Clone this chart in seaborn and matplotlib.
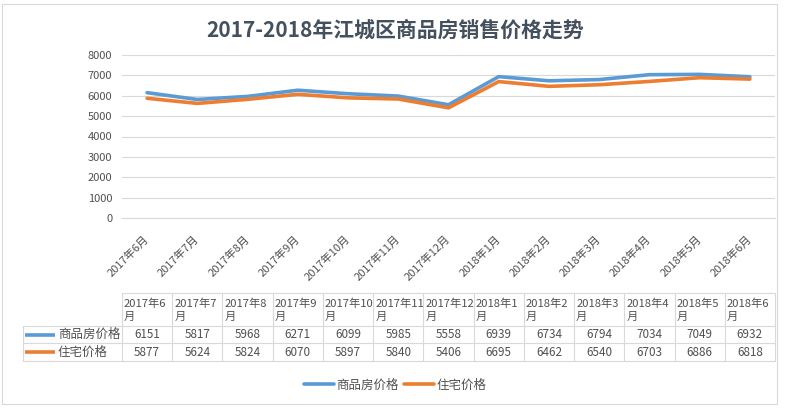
import matplotlib
matplotlib.use("Agg")
import matplotlib.pyplot as plt
from matplotlib.lines import Line2D
from matplotlib.patches import Rectangle
import seaborn as sns
import pandas as pd

# data
months = ["2017年6月", "2017年7月", "2017年8月", "2017年9月", "2017年10月", "2017年11月",
          "2017年12月", "2018年1月", "2018年2月", "2018年3月", "2018年4月", "2018年5月", "2018年6月"]
commercial = [6151, 5817, 5968, 6271, 6099, 5985, 5558, 6939, 6734, 6794, 7034, 7049, 6932]
residential = [5877, 5624, 5824, 6070, 5897, 5840, 5406, 6695, 6462, 6540, 6703, 6886, 6818]
series_names = ["商品房价格", "住宅价格"]
colors = ["#5B9BD5", "#ED7D31"]
title = "2017-2018年江城区商品房销售价格走势"
y_ticks = list(range(0, 8001, 1000))

sns.set_style("white")
plt.rcParams["font.family"] = ["Noto Sans CJK SC", "DejaVu Sans"]

W, H = 790, 408
fig = plt.figure(figsize=(W / 100, H / 100), dpi=100)

def fx(px):
    return px / W

def fy(py):
    return 1 - py / H

grid_c = "#D9D9D9"
text_c = "#505050"

# chart border
fig.patches.append(Rectangle((fx(2), fy(404)), fx(775), 400 / H, transform=fig.transFigure,
                             fill=False, edgecolor=grid_c, lw=0.8))

# main plot area
L, R, T, B = 122, 775, 55, 218
ax = fig.add_axes([fx(L), fy(B), fx(R - L), (B - T) / H])

df = pd.DataFrame({
    "idx": list(range(len(months))) * 2,
    "price": commercial + residential,
    "series": [series_names[0]] * len(months) + [series_names[1]] * len(months),
})
sns.lineplot(data=df, x="idx", y="price", hue="series", palette=colors,
             hue_order=series_names, linewidth=2.6, legend=False, ax=ax, sort=False)

ax.set_xlim(-0.5, len(months) - 0.5)
ax.set_ylim(0, 8000)
ax.set_yticks(y_ticks)
ax.set_yticklabels([str(v) for v in y_ticks], fontsize=8, color=text_c)
ax.yaxis.grid(True, color=grid_c, lw=0.8)
ax.set_xticks(range(len(months)))
ax.set_xticklabels(months, rotation=45, ha="right", va="center",
                   rotation_mode="anchor", fontsize=8, color=text_c)
ax.set_xticks([i - 0.5 for i in range(len(months) + 1)], minor=True)
ax.tick_params(axis="x", which="major", length=0, pad=14)
ax.tick_params(axis="x", which="minor", length=4, color=grid_c, width=0.8)
ax.tick_params(axis="y", length=0, pad=7)
ax.set_xlabel("")
ax.set_ylabel("")
for s in ["top", "right", "left"]:
    ax.spines[s].set_visible(False)
ax.spines["bottom"].set_color(grid_c)
ax.spines["bottom"].set_linewidth(0.8)

fig.text(0.5, fy(30), title, ha="center", va="center", fontsize=15,
         fontweight="bold", color="#44505E")

# data table aligned with categories
TT, TB = 293, 361
tab = fig.add_axes([fx(L), fy(TB), fx(R - L), (TB - TT) / H])
tab.set_xlim(-0.5, len(months) - 0.5)
tab.set_ylim(TB - TT, 0)
tab.axis("off")
col_w = (R - L) / len(months)
left_x = -0.5 - (L - 23) / col_w
rows = [0, 33, 50, 68]
lk = dict(color=grid_c, lw=0.8, clip_on=False)
tab.plot([-0.5, len(months) - 0.5], [rows[0], rows[0]], **lk)
for r in rows[1:]:
    tab.plot([left_x, len(months) - 0.5], [r, r], **lk)
for i in range(len(months) + 1):
    tab.plot([i - 0.5, i - 0.5], [rows[0], rows[3]], **lk)
tab.plot([left_x, left_x], [rows[1], rows[3]], **lk)

for i, m in enumerate(months):
    tab.text(i - 0.5 + 2 / col_w, (rows[0] + rows[1]) / 2 + 1, m[:-1] + "\n月",
             ha="left", va="center", fontsize=8.1, color=text_c, linespacing=1.3)
    for k, vals in enumerate([commercial, residential]):
        tab.text(i, (rows[k + 1] + rows[k + 2]) / 2, str(vals[i]), ha="center",
                 va="center", fontsize=8.4, color=text_c)

for k, name in enumerate(series_names):
    yc = (rows[k + 1] + rows[k + 2]) / 2
    tab.plot([left_x + 2 / col_w, left_x + 32 / col_w], [yc, yc], color=colors[k],
             lw=2.6, clip_on=False, solid_capstyle="butt")
    tab.text(left_x + 35 / col_w, yc, name, ha="left", va="center",
             fontsize=9, color=text_c, clip_on=False)

handles = [Line2D([0], [0], color=c, lw=2.6) for c in colors]
fig.legend(handles, series_names, loc="center", bbox_to_anchor=(fx(395), fy(385)),
           ncol=2, frameon=False, fontsize=9, handlelength=2.4, handletextpad=0.2,
           columnspacing=0.4, labelcolor=text_c)

fig.savefig("out.png", dpi=100)
